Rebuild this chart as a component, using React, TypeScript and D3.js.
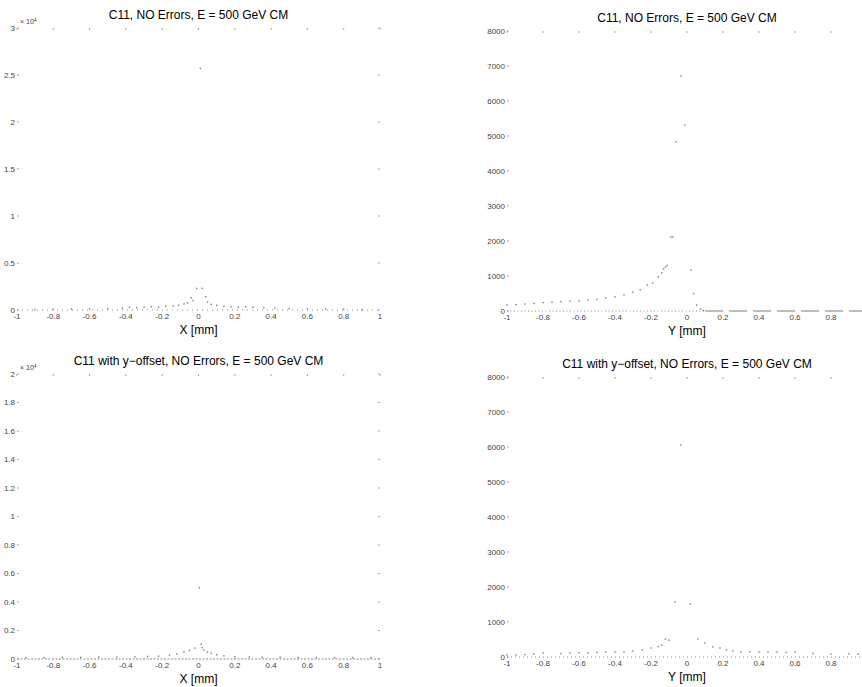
import React from "react";
import * as d3 from "d3";

// ---------- data ----------
const xTicks = [-1, -0.8, -0.6, -0.4, -0.2, 0, 0.2, 0.4, 0.6, 0.8, 1];
const yTicksA = [0, 0.5, 1, 1.5, 2, 2.5, 3];
const yTicksC = [0, 0.2, 0.4, 0.6, 0.8, 1, 1.2, 1.4, 1.6, 1.8, 2];
const yTicksB = [0, 1000, 2000, 3000, 4000, 5000, 6000, 7000, 8000];

// Panel A: X [mm], C11 no errors (counts x 10^4)
const xA = [-0.9, -0.8, -0.7, -0.6, -0.5, -0.42, -0.38, -0.34, -0.3, -0.26, -0.22, -0.18, -0.14, -0.11, -0.08, -0.06, -0.04, -0.03, -0.01, 0.01, 0.02, 0.04, 0.05, 0.07, 0.1, 0.14, 0.18, 0.22, 0.26, 0.3, 0.36, 0.42, 0.5, 0.6, 0.7, 0.8, 0.9];
const vA = [0.005, 0.008, 0.01, 0.012, 0.015, 0.02, 0.03, 0.025, 0.03, 0.035, 0.03, 0.04, 0.045, 0.05, 0.065, 0.075, 0.13, 0.1, 0.23, 2.57, 0.23, 0.14, 0.085, 0.06, 0.05, 0.04, 0.035, 0.03, 0.035, 0.03, 0.025, 0.02, 0.015, 0.012, 0.01, 0.008, 0.005];

// Panel B: Y [mm], C11 no errors
const xB = [-1, -0.95, -0.9, -0.85, -0.8, -0.75, -0.7, -0.65, -0.6, -0.55, -0.5, -0.45, -0.4, -0.35, -0.3, -0.26, -0.22, -0.19, -0.16, -0.14, -0.13, -0.12, -0.11, -0.09, -0.078, -0.061, -0.033, -0.011, 0.022, 0.037, 0.054, 0.075, 0.09];
const vB = [170, 180, 200, 215, 240, 250, 265, 280, 290, 310, 330, 370, 400, 460, 540, 600, 740, 800, 970, 1090, 1200, 1257, 1300, 2114, 2114, 4830, 6714, 5314, 1171, 500, 170, 60, 20];

// Panel C: X [mm], C11 with y-offset (counts x 10^4)
const xC = [-0.95, -0.85, -0.75, -0.65, -0.55, -0.45, -0.35, -0.28, -0.22, -0.16, -0.12, -0.08, -0.05, -0.02, 0.005, 0.015, 0.02, 0.03, 0.05, 0.07, 0.1, 0.14, 0.2, 0.28, 0.35, 0.45, 0.55, 0.65, 0.75, 0.85, 0.95];
const vC = [0.01, 0.01, 0.012, 0.012, 0.013, 0.013, 0.015, 0.018, 0.02, 0.028, 0.035, 0.049, 0.06, 0.077, 0.5, 0.105, 0.08, 0.063, 0.049, 0.04, 0.03, 0.022, 0.015, 0.013, 0.012, 0.012, 0.011, 0.01, 0.01, 0.01, 0.01];

// Panel D: Y [mm], C11 with y-offset
const xD = [-1, -0.95, -0.9, -0.85, -0.8, -0.7, -0.65, -0.6, -0.55, -0.5, -0.45, -0.4, -0.35, -0.3, -0.25, -0.2, -0.16, -0.14, -0.12, -0.1, -0.067, -0.033, 0.017, 0.061, 0.1, 0.144, 0.183, 0.22, 0.255, 0.3, 0.35, 0.4, 0.45, 0.5, 0.55, 0.6, 0.7, 0.8, 0.9, 0.95];
const vD = [57, 60, 70, 90, 110, 100, 114, 120, 114, 130, 143, 140, 150, 171, 200, 257, 300, 343, 514, 480, 1571, 6057, 1514, 514, 400, 286, 257, 200, 171, 143, 150, 143, 140, 143, 130, 140, 100, 86, 90, 86];

const titleA = "C11, NO Errors, E = 500 GeV CM";
const titleC = "C11 with y\u2212offset, NO Errors, E = 500 GeV CM";

const FONT = "'Liberation Sans', Arial, Helvetica, sans-serif";
const W = 862;
const H = 687;

type PanelProps = {
  left: number;
  right: number;
  top: number;
  bottom: number;
  yMax: number;
  yTicks: number[];
  expo?: boolean;
  title: string;
  xLabel: string;
  xs: number[];
  vs: number[];
  baseDash: string;
  splitZero?: number;
};

function fmt(v: number) {
  return String(Math.round(v * 10) / 10);
}

function Panel(p: PanelProps) {
  const x = d3.scaleLinear().domain([-1, 1]).range([p.left, p.right]);
  const y = d3.scaleLinear().domain([0, p.yMax]).range([p.bottom, p.top]);
  const cx = (p.left + p.right) / 2;
  const pts = p.xs.map((xv, i) => [xv, p.vs[i]] as [number, number]);
  const baseLine = d3
    .line<number>()
    .x((d) => x(d))
    .y(() => y(0));
  const leftEnd = p.splitZero !== undefined ? p.splitZero : 1;
  const tickColor = "#a5a5a5";
  const visibleX = xTicks.filter((t) => x(t) <= W - 2);
  return (
    <g>
      <text x={cx} y={p.top - 9} textAnchor="middle" fontSize={12} fontFamily={FONT} fill="#000">
        {p.title}
      </text>
      {p.yTicks.map((t) => (
        <g key={"y" + t}>
          <line x1={p.left} x2={p.left + 2} y1={y(t)} y2={y(t)} stroke={tickColor} strokeWidth={1} />
          {p.right < W && (
            <line x1={p.right - 2} x2={p.right} y1={y(t)} y2={y(t)} stroke={tickColor} strokeWidth={1} />
          )}
          <text
            x={p.left - 2}
            y={y(t)}
            dy="0.35em"
            textAnchor="end"
            fontSize={8}
            fontFamily={FONT}
            fill="#444"
          >
            {p.yMax > 100 ? String(t) : fmt(t)}
          </text>
        </g>
      ))}
      {p.expo && (
        <text x={p.left + 3} y={p.top - 4} fontSize={7} fontFamily={FONT} fill="#444">
          {"\u00d7 10"}
          <tspan dy={-2.5} fontSize={5}>
            4
          </tspan>
        </text>
      )}
      {visibleX.map((t) => (
        <g key={"x" + t}>
          <line x1={x(t)} x2={x(t)} y1={p.top} y2={p.top + 2} stroke={tickColor} strokeWidth={1} />
          <text
            x={x(t)}
            y={p.bottom + 9}
            textAnchor="middle"
            fontSize={8}
            fontFamily={FONT}
            fill="#444"
          >
            {fmt(t)}
          </text>
        </g>
      ))}
      <text x={cx} y={p.bottom + 24} textAnchor="middle" fontSize={12} fontFamily={FONT} fill="#000">
        {p.xLabel}
      </text>
      <path
        d={baseLine([-1, leftEnd]) || ""}
        fill="none"
        stroke="#8a8a8a"
        strokeWidth={1}
        strokeDasharray={p.baseDash}
      />
      {p.splitZero !== undefined && (
        <path
          d={baseLine([p.splitZero, 1]) || ""}
          fill="none"
          stroke="#a8a8a8"
          strokeWidth={1.6}
          strokeDasharray="18 6"
        />
      )}
      {pts.map(([xv, vv], i) => (
        <rect
          key={"p" + i}
          x={x(xv) - 0.7}
          y={y(vv) - 0.7}
          width={1.4}
          height={1.4}
          fill="#7a7a7a"
        />
      ))}
    </g>
  );
}

export default function App() {
  return (
    <svg
      width={W}
      height={H}
      viewBox={`0 0 ${W} ${H}`}
      style={{ position: "absolute", left: 0, top: 0, background: "#fff" }}
    >
      <rect x={0} y={0} width={W} height={H} fill="#fff" />
      <Panel left={17} right={380} top={28} bottom={310} yMax={3} yTicks={yTicksA} expo
        title={titleA} xLabel="X [mm]" xs={xA} vs={vA} baseDash="1 4" />
      <Panel left={507} right={867} top={31} bottom={311} yMax={8000} yTicks={yTicksB}
        title={titleA} xLabel="Y [mm]" xs={xB} vs={vB} baseDash="1 2.5" splitZero={0.1} />
      <Panel left={17} right={380} top={374} bottom={659} yMax={2} yTicks={yTicksC} expo
        title={titleC} xLabel="X [mm]" xs={xC} vs={vC} baseDash="2 1.5" />
      <Panel left={507} right={867} top={377} bottom={657} yMax={8000} yTicks={yTicksB}
        title={titleC} xLabel="Y [mm]" xs={xD} vs={vD} baseDash="1 3" />
    </svg>
  );
}
